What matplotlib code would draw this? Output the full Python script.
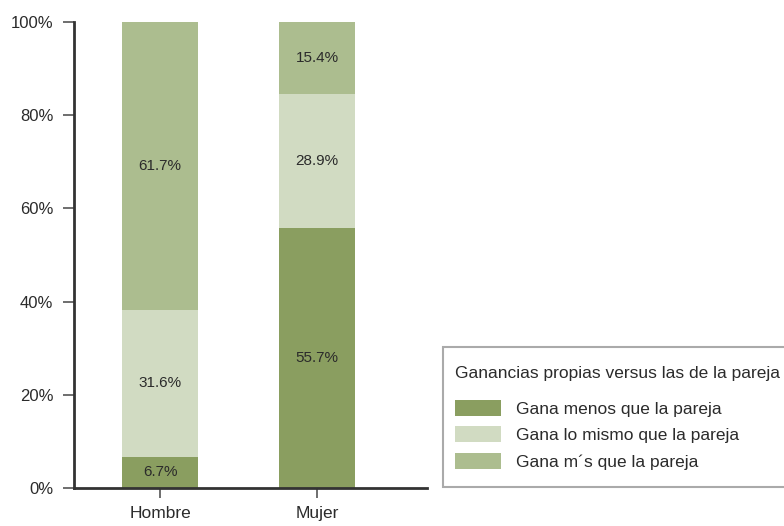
import matplotlib
matplotlib.use("Agg")
import matplotlib.pyplot as plt
from matplotlib.patches import Rectangle
import numpy as np

categorias = ["Hombre", "Mujer"]
gana_menos = [6.7, 55.7]
gana_mismo = [31.6, 28.9]
gana_mas = [61.7, 15.4]
series = ["Gana menos que la pareja", "Gana lo mismo que la pareja", "Gana m\u00b4s que la pareja"]
colores = ["#8a9e60", "#d1dbc2", "#acbd8f"]
ticks_y = [0, 20, 40, 60, 80, 100]

plt.rcParams["font.family"] = ["Liberation Sans", "DejaVu Sans"]
texto = "#2b2b2b"

fig = plt.figure(figsize=(7.84, 5.26), dpi=100)
ax = fig.add_axes([74 / 784, 38 / 526, (427 - 74) / 784, (488 - 22) / 526])

x = np.arange(len(categorias))
base = np.zeros(len(categorias))
for valores, nombre, color in zip([gana_menos, gana_mismo, gana_mas], series, colores):
    ax.bar(x, valores, width=0.484, bottom=base, color=color, label=nombre)
    for xi, b, v in zip(x, base, valores):
        ax.text(xi, b + v / 2, "%.1f%%" % v, ha="center", va="center", fontsize=11, color=texto)
    base = base + np.array(valores)

ax.set_xlim(-0.548, 1.70)
ax.set_ylim(0, 100)
ax.set_xticks(x)
ax.set_xticklabels(categorias)
ax.set_yticks(ticks_y)
ax.set_yticklabels(["%d%%" % t for t in ticks_y])
for lado in ["top", "right"]:
    ax.spines[lado].set_visible(False)
for lado in ["left", "bottom"]:
    ax.spines[lado].set_linewidth(2)
    ax.spines[lado].set_color("#333333")
ax.tick_params(axis="y", length=8, width=1.2, color="#555555", pad=7, labelsize=12, labelcolor=texto)
ax.tick_params(axis="x", length=7, width=1.2, color="#555555", pad=6, labelsize=12.5, labelcolor=texto)

# marco de la leyenda (sale por la derecha de la figura)
fig.add_artist(Rectangle((443 / 784, 39 / 526), 400 / 784, 140 / 526, transform=fig.transFigure,
                         facecolor="white", edgecolor="#aaaaaa", linewidth=1.5, zorder=1))

leg = fig.legend(loc="upper left", bbox_to_anchor=(455 / 784, 1 - 366 / 526),
                 title="Ganancias propias versus las de la pareja", fontsize=12.5, title_fontsize=12.5,
                 frameon=False, handlelength=2.65, handleheight=1.05, handletextpad=0.86,
                 labelspacing=0.54, borderpad=0, borderaxespad=0)
leg.set_zorder(2)
leg._legend_box.align = "left"
leg._legend_box.sep = 13.7
for t in leg.get_texts():
    t.set_color(texto)
leg.get_title().set_color(texto)

fig.savefig("out.png", dpi=100)
